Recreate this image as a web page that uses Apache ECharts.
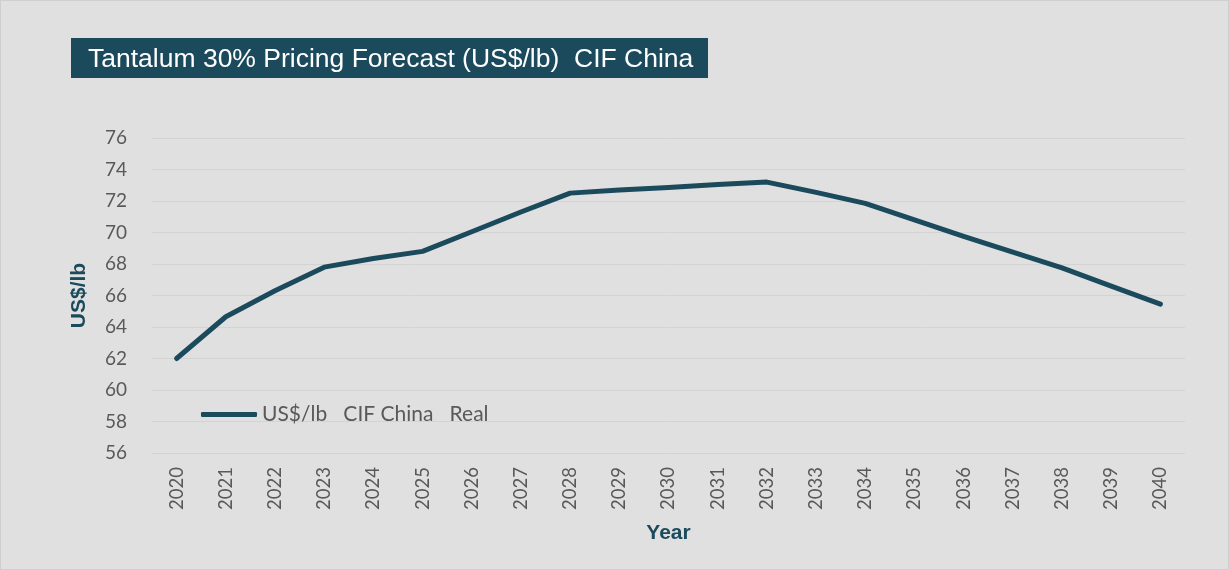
<!DOCTYPE html>
<html><head><meta charset="utf-8">
<script src="https://cdn.jsdelivr.net/npm/echarts@6/dist/echarts.min.js"></script>
<style>html,body{margin:0;padding:0;background:#e0e0e0;}#c{width:1229px;height:570px;box-sizing:border-box;border:1px solid #cfcfcf;}</style>
</head><body><div id="c"></div>
<script>
const years = ['2020','2021','2022','2023','2024','2025','2026','2027','2028','2029','2030','2031','2032','2033','2034','2035','2036','2037','2038','2039','2040'];
const priceReal = [62.0,64.65,66.3,67.8,68.35,68.8,70.05,71.3,72.5,72.7,72.85,73.05,73.2,72.55,71.85,70.8,69.75,68.75,67.75,66.6,65.45];
const seriesName = 'US$/lb   CIF China   Real';
const titleText = 'Tantalum 30% Pricing Forecast (US$/lb)  CIF China';

const chart = echarts.init(document.getElementById('c'), null, {renderer:'canvas'});
const dark = '#1c4a5d';
chart.setOption({
  backgroundColor: '#e0e0e0',
  animation: false,
  graphic: [
    {type:'rect', left:70, top:37, shape:{width:637, height:40}, style:{fill:dark}},
    {type:'text', left:87, top:45, style:{text:titleText, fill:'#ffffff', font:'26.5px "Liberation Sans", Arial, sans-serif'}}
  ],
  legend: {
    left: 195, top: 398, itemWidth: 56, itemHeight: 5, itemGap: 11,
    icon: 'roundRect',
    textStyle: {color:'#595959', fontSize:21, fontFamily:'Lato, "Noto Sans", sans-serif'},
    data: [seriesName]
  },
  grid: {left:151, right:43, top:137, bottom:116, containLabel:false},
  xAxis: {
    type:'category', data: years, boundaryGap:true,
    name:'Year', nameLocation:'middle', nameGap:70,
    nameTextStyle:{color:dark, fontSize:21, fontWeight:'bold', fontFamily:'"Liberation Sans", Arial, sans-serif'},
    axisLine:{show:false}, axisTick:{show:false},
    axisLabel:{rotate:90, color:'#595959', fontSize:18.5, margin:14, fontFamily:'Lato, "Noto Sans", sans-serif'}
  },
  yAxis: {
    type:'value', min:56, max:76, interval:2,
    name:'US$/lb', nameLocation:'middle', nameGap:62, nameRotate:90,
    nameTextStyle:{color:dark, fontSize:21, fontWeight:'bold', fontFamily:'"Liberation Sans", Arial, sans-serif'},
    axisLine:{show:false}, axisTick:{show:false},
    axisLabel:{color:'#595959', fontSize:19, margin:25, fontFamily:'Lato, "Noto Sans", sans-serif'},
    splitLine:{lineStyle:{color:'#d3d3d3', width:1}}
  },
  series: [{
    name: seriesName, type:'line', data: priceReal,
    symbol:'none', lineStyle:{color:dark, width:5, cap:'round', join:'round'},
    itemStyle:{color:dark}
  }]
});
</script></body></html>
